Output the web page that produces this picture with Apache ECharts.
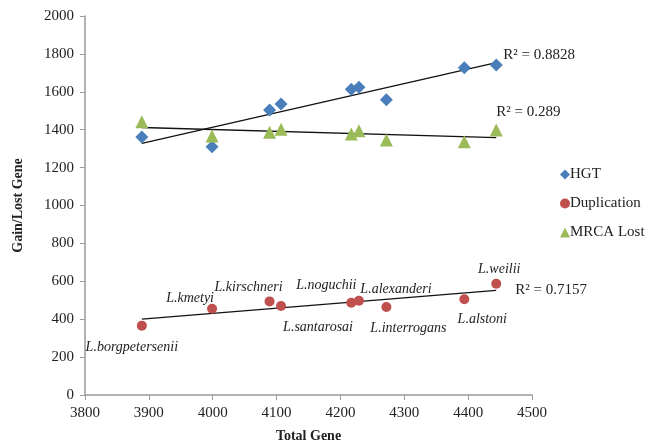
<!DOCTYPE html>
<html>
<head>
<meta charset="utf-8">
<script src="https://cdn.jsdelivr.net/npm/echarts@6/dist/echarts.min.js"></script>
<style>
	html, body { margin: 0; padding: 0; background: #fff; }
	#chart { width: 651px; height: 443px; }
</style>
</head>
<body>
<div id="chart"></div>
<script>
// species (labels on the duplication points)
var species = ["L.borgpetersenii", "L.kmetyi", "L.kirschneri", "L.santarosai", "L.noguchii",
	"L.alexanderi", "L.interrogans", "L.alstoni", "L.weilii"];
var totalGene = [3889, 3999, 4089, 4107, 4217, 4229, 4272, 4394, 4444];
var hgt = [1361, 1310, 1504, 1536, 1613, 1624, 1558, 1727, 1741];
var duplication = [366, 455, 494, 470, 487, 497, 464, 505, 587];
var mrcaLost = [1442, 1367, 1386, 1402, 1377, 1395, 1346, 1337, 1398];
var r2Texts = ["R\u00b2 = 0.8828", "R\u00b2 = 0.7157", "R\u00b2 = 0.289"];

var FONT = "'Liberation Serif', 'DejaVu Serif', serif";

/**
 * 最小二乘线性拟合，返回两端点。
 */
function trendPoints(xs, ys)
{
	var n = xs.length, sx = 0, sy = 0, sxx = 0, sxy = 0;
	for(var i=0; i<n; i++)
	{
		sx += xs[i]; sy += ys[i];
		sxx += xs[i]*xs[i]; sxy += xs[i]*ys[i];
	}
	var b = (n*sxy - sx*sy) / (n*sxx - sx*sx);
	var a = (sy - b*sx) / n;
	var x0 = Math.min.apply(null, xs), x1 = Math.max.apply(null, xs);
	return [[x0, a + b*x0], [x1, a + b*x1]];
}

function pairs(xs, ys)
{
	var re = [];
	for(var i=0; i<xs.length; i++)
		re.push([xs[i], ys[i]]);
	return re;
}

// label placement for each species on the duplication points
var labelPos = [
	{ position: "bottom", offset: [-10, 5] },
	{ position: "top", offset: [-22, 7] },
	{ position: "top", offset: [-21, 3] },
	{ position: "bottom", offset: [37, 4] },
	{ position: "top", offset: [-25, 0] },
	{ position: "top", offset: [37, 5] },
	{ position: "bottom", offset: [22, 4] },
	{ position: "bottom", offset: [18, 3] },
	{ position: "top", offset: [3, 3] }
];

function dupData()
{
	var re = [];
	for(var i=0; i<totalGene.length; i++)
	{
		re.push({
			value: [totalGene[i], duplication[i]],
			label: {
				show: true,
				formatter: species[i],
				position: labelPos[i].position,
				offset: labelPos[i].offset,
				fontFamily: FONT,
				fontStyle: "italic",
				fontSize: 14,
				color: "#222"
			}
		});
	}
	return re;
}

function trendSeries(xs, ys, r2Text, r2Offset)
{
	return {
		type: "line",
		data: trendPoints(xs, ys),
		symbol: "none",
		silent: true,
		lineStyle: { color: "#111", width: 1.3 },
		endLabel: {
			show: true,
			formatter: r2Text,
			offset: r2Offset,
			fontFamily: FONT,
			fontSize: 15,
			color: "#222"
		},
		z: 1
	};
}

var chart = echarts.init(document.getElementById("chart"));

var axisText = {
	fontFamily: FONT,
	fontSize: 15,
	color: "#222",
	margin: 11,
	formatter: function(v) { return String(v); }
};

chart.setOption({
	animation: false,
	grid: { left: 85, right: 119, top: 16, bottom: 48, outerBoundsMode: "none" },
	legend: {
		orient: "vertical",
		left: 555,
		top: 162,
		itemGap: 14,
		itemWidth: 10,
		itemHeight: 10,
		textStyle: { fontFamily: FONT, fontSize: 15, color: "#222", padding: [0, 0, 0, -5] },
		data: [
			{ name: "HGT", icon: "diamond" },
			{ name: "Duplication", icon: "circle" },
			{ name: "MRCA Lost", icon: "triangle" }
		]
	},
	xAxis: {
		type: "value",
		min: 3800,
		max: 4500,
		interval: 100,
		name: "Total Gene",
		nameLocation: "middle",
		nameGap: 34,
		nameTextStyle: { fontFamily: FONT, fontSize: 14, fontWeight: "bold", color: "#222" },
		axisLine: { lineStyle: { color: "#9a9a9a", width: 1.5 } },
		axisTick: { show: true, inside: false, length: 5, lineStyle: { color: "#9a9a9a" } },
		axisLabel: axisText,
		splitLine: { show: false }
	},
	yAxis: {
		type: "value",
		min: 0,
		max: 2000,
		interval: 200,
		name: "Gain/Lost Gene",
		nameLocation: "middle",
		nameGap: 60,
		nameTextStyle: { fontFamily: FONT, fontSize: 14, fontWeight: "bold", color: "#222" },
		axisLine: { show: true, lineStyle: { color: "#9a9a9a", width: 1.5 } },
		axisTick: { show: true, inside: false, length: 5, lineStyle: { color: "#9a9a9a" } },
		axisLabel: axisText,
		splitLine: { show: false }
	},
	series: [
		{
			name: "HGT",
			type: "scatter",
			symbol: "diamond",
			symbolSize: 13,
			itemStyle: { color: "#4a7ebb", opacity: 1 },
			data: pairs(totalGene, hgt),
			z: 3
		},
		{
			name: "Duplication",
			type: "scatter",
			symbol: "circle",
			symbolSize: 10,
			itemStyle: { color: "#c0504d", opacity: 1 },
			data: dupData(),
			z: 3
		},
		{
			name: "MRCA Lost",
			type: "scatter",
			symbol: "triangle",
			symbolSize: 13,
			itemStyle: { color: "#9bbb59", opacity: 1 },
			data: pairs(totalGene, mrcaLost),
			z: 3
		},
		trendSeries(totalGene, hgt, r2Texts[0], [-1, -8]),
		trendSeries(totalGene, duplication, r2Texts[1], [11, 0]),
		trendSeries(totalGene, mrcaLost, r2Texts[2], [-8, -26])
	]
});
</script>
</body>
</html>
